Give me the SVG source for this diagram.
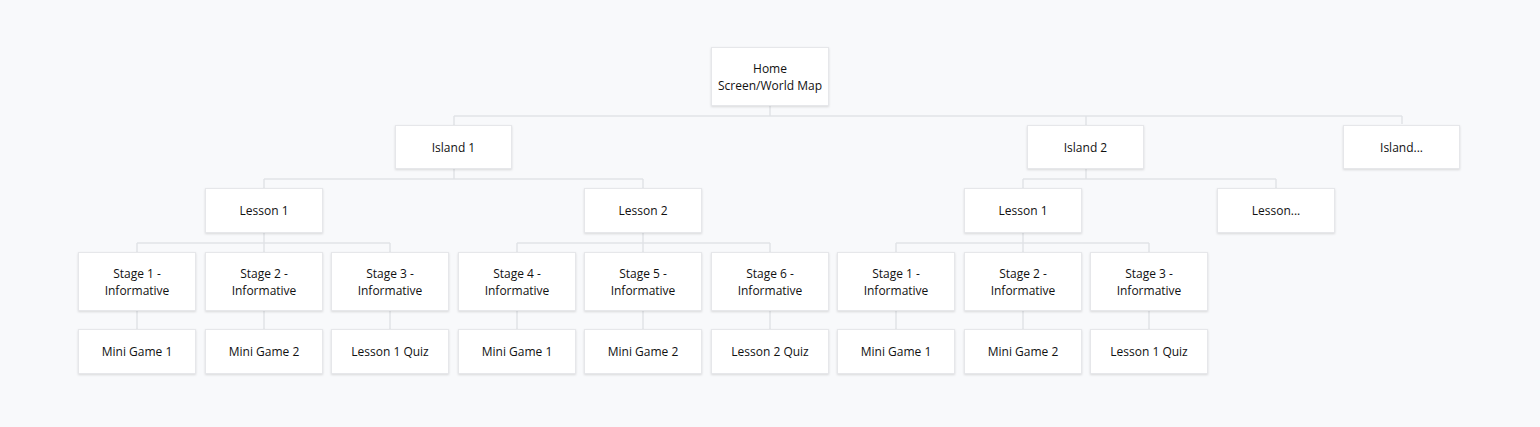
<svg xmlns="http://www.w3.org/2000/svg" width="1540" height="427" viewBox="0 0 1540 427">
<defs>
<filter id="sh" x="-10%" y="-20%" width="120%" height="150%">
<feDropShadow dx="0" dy="1" stdDeviation="1.2" flood-color="#000" flood-opacity="0.13"/>
</filter>
<style>
.b{fill:#ffffff;stroke:#e6e7ea;stroke-width:1;filter:url(#sh)}
.t{font-family:"Open Sans","Noto Sans",sans-serif;font-size:12px;fill:#111111;text-anchor:middle}
.c{fill:none;stroke:#e1e3e7;stroke-width:1.5}
</style>
</defs>
<rect width="1540" height="427" fill="#f8f9fb"/>
<g id="connectors">
<path class="c" d="M770 106V116M454 116H1402M454 116V125M1086 116V125M1402 116V124"/>
<path class="c" d="M454 169V179M264 179H643M264 179V188M643 179V188"/>
<path class="c" d="M1086 169V179M1023 179H1276M1023 179V188M1276 179V188"/>
<path class="c" d="M264 233V243M137 243H390M137 243V252M264 243V252M390 243V252"/>
<path class="c" d="M643 233V243M517 243H770M517 243V252M643 243V252M770 243V252"/>
<path class="c" d="M1023 233V243M896 243H1149M896 243V252M1023 243V252M1149 243V252"/>
<path class="c" d="M137 311V329M264 311V329M390 311V329M517 311V329M643 311V329M770 311V329M896 311V329M1023 311V329M1149 311V329"/>
</g>
<g id="home"><rect class="b" x="711.5" y="47.5" width="117" height="58"/><text class="t" x="770" y="73">Home</text><text class="t" x="770" y="90">Screen/World Map</text></g>
<g id="island1"><rect class="b" x="395.5" y="125.5" width="116" height="43"/><text class="t" x="453.5" y="151.5">Island 1</text></g>
<g id="island2"><rect class="b" x="1027.5" y="125.5" width="116" height="43"/><text class="t" x="1085.5" y="151.5">Island 2</text></g>
<g id="islandmore"><rect class="b" x="1343.5" y="125.5" width="116" height="43"/><text class="t" x="1401.5" y="151.5">Island...</text></g>
<g id="lesson1a"><rect class="b" x="205.5" y="188.5" width="117" height="44"/><text class="t" x="264" y="215">Lesson 1</text></g>
<g id="lesson2a"><rect class="b" x="584.5" y="188.5" width="117" height="44"/><text class="t" x="643" y="215">Lesson 2</text></g>
<g id="lesson1b"><rect class="b" x="964.5" y="188.5" width="117" height="44"/><text class="t" x="1023" y="215">Lesson 1</text></g>
<g id="lessonmore"><rect class="b" x="1217.5" y="188.5" width="117" height="44"/><text class="t" x="1276" y="215">Lesson...</text></g>
<g id="s1a"><rect class="b" x="78.5" y="252.5" width="117" height="58"/><text class="t" x="137" y="278">Stage 1 -</text><text class="t" x="137" y="295">Informative</text></g>
<g id="s2a"><rect class="b" x="205.5" y="252.5" width="117" height="58"/><text class="t" x="264" y="278">Stage 2 -</text><text class="t" x="264" y="295">Informative</text></g>
<g id="s3a"><rect class="b" x="331.5" y="252.5" width="117" height="58"/><text class="t" x="390" y="278">Stage 3 -</text><text class="t" x="390" y="295">Informative</text></g>
<g id="s4"><rect class="b" x="458.5" y="252.5" width="117" height="58"/><text class="t" x="517" y="278">Stage 4 -</text><text class="t" x="517" y="295">Informative</text></g>
<g id="s5"><rect class="b" x="584.5" y="252.5" width="117" height="58"/><text class="t" x="643" y="278">Stage 5 -</text><text class="t" x="643" y="295">Informative</text></g>
<g id="s6"><rect class="b" x="711.5" y="252.5" width="117" height="58"/><text class="t" x="770" y="278">Stage 6 -</text><text class="t" x="770" y="295">Informative</text></g>
<g id="s1b"><rect class="b" x="837.5" y="252.5" width="117" height="58"/><text class="t" x="896" y="278">Stage 1 -</text><text class="t" x="896" y="295">Informative</text></g>
<g id="s2b"><rect class="b" x="964.5" y="252.5" width="117" height="58"/><text class="t" x="1023" y="278">Stage 2 -</text><text class="t" x="1023" y="295">Informative</text></g>
<g id="s3b"><rect class="b" x="1090.5" y="252.5" width="117" height="58"/><text class="t" x="1149" y="278">Stage 3 -</text><text class="t" x="1149" y="295">Informative</text></g>
<g id="m1a"><rect class="b" x="78.5" y="329.5" width="117" height="44"/><text class="t" x="137" y="356">Mini Game 1</text></g>
<g id="m2a"><rect class="b" x="205.5" y="329.5" width="117" height="44"/><text class="t" x="264" y="356">Mini Game 2</text></g>
<g id="q1a"><rect class="b" x="331.5" y="329.5" width="117" height="44"/><text class="t" x="390" y="356">Lesson 1 Quiz</text></g>
<g id="m1b"><rect class="b" x="458.5" y="329.5" width="117" height="44"/><text class="t" x="517" y="356">Mini Game 1</text></g>
<g id="m2b"><rect class="b" x="584.5" y="329.5" width="117" height="44"/><text class="t" x="643" y="356">Mini Game 2</text></g>
<g id="q2"><rect class="b" x="711.5" y="329.5" width="117" height="44"/><text class="t" x="770" y="356">Lesson 2 Quiz</text></g>
<g id="m1c"><rect class="b" x="837.5" y="329.5" width="117" height="44"/><text class="t" x="896" y="356">Mini Game 1</text></g>
<g id="m2c"><rect class="b" x="964.5" y="329.5" width="117" height="44"/><text class="t" x="1023" y="356">Mini Game 2</text></g>
<g id="q1b"><rect class="b" x="1090.5" y="329.5" width="117" height="44"/><text class="t" x="1149" y="356">Lesson 1 Quiz</text></g>
</svg>
